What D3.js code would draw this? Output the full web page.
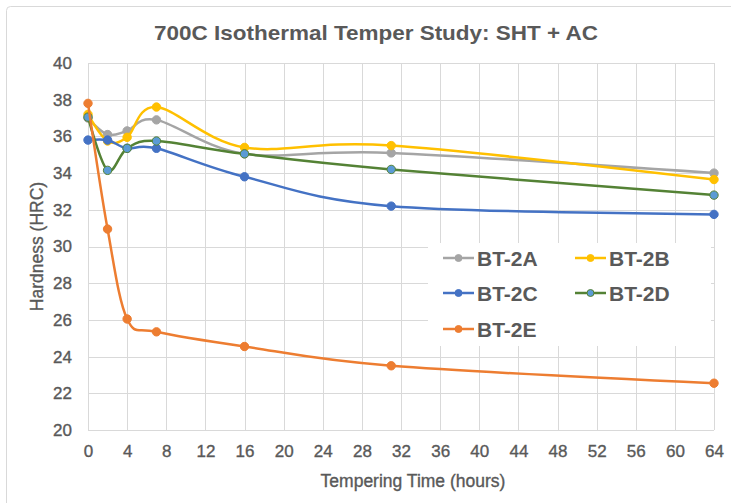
<!DOCTYPE html>
<html>
<head>
<meta charset="utf-8">
<script src="https://cdn.jsdelivr.net/npm/d3@7"></script>
<style>
  html, body { margin: 0; padding: 0; background: #fff; }
  svg { display: block; }
</style>
</head>
<body>
<svg id="chart" width="731" height="503"></svg>
<script>
// Tempering times (hours)
const hours = [0, 2, 4, 7, 16, 31, 64];

// Hardness (HRC) per sample
const seriesNames = ["BT-2A", "BT-2B", "BT-2C", "BT-2D", "BT-2E"];
const bt2A = [37.0, 36.1, 36.3, 36.9, 35.05, 35.1, 34.0];
const bt2B = [37.2, 35.75, 35.95, 37.6, 35.4, 35.5, 33.65];
const bt2C = [35.8, 35.8, 35.35, 35.35, 33.8, 32.2, 31.75];
const bt2D = [37.05, 34.15, 35.35, 35.75, 35.05, 34.2, 32.8];
const bt2E = [37.8, 30.95, 26.05, 25.35, 24.55, 23.5, 22.55];

const xTicks = d3.range(0, 65, 4);
const yTicks = d3.range(20, 41, 2);

const lineColors = ["#a5a5a5", "#ffc000", "#4472c4", "#548235", "#ed7d31"];
const markerFills = ["#a5a5a5", "#ffc000", "#4472c4", "#5b9bd5", "#ed7d31"];

const seriesValues = [bt2A, bt2B, bt2C, bt2D, bt2E];
const series = seriesNames.map((name, i) => ({
  name,
  line: lineColors[i],
  fill: markerFills[i],
  points: hours.map((h, j) => ({ h, v: seriesValues[i][j] }))
}));

const svg = d3.select("#chart");
const textColor = "#595959";
const gridColor = "#d9d9d9";
const font = "'Liberation Sans', Arial, sans-serif";

// outer chart frame
svg.append("rect")
  .attr("x", 6.5).attr("y", 6.5)
  .attr("width", 740).attr("height", 510)
  .attr("rx", 4)
  .attr("fill", "#fff")
  .attr("stroke", gridColor)
  .attr("stroke-width", 1);

const x = d3.scaleLinear().domain([0, 64]).range([88, 714]);
const y = d3.scaleLinear().domain([20, 40]).range([430, 63]);

// gridlines
const grid = svg.append("g");
grid.selectAll("line.v").data(xTicks).join("line")
  .attr("x1", d => Math.round(x(d)) + 0.5).attr("x2", d => Math.round(x(d)) + 0.5)
  .attr("y1", y(40)).attr("y2", y(20))
  .attr("stroke", gridColor).attr("stroke-width", 1);
grid.selectAll("line.h").data(yTicks).join("line")
  .attr("x1", x(0)).attr("x2", x(64))
  .attr("y1", d => Math.round(y(d)) + 0.5).attr("y2", d => Math.round(y(d)) + 0.5)
  .attr("stroke", gridColor).attr("stroke-width", 1);

// axes (labels only, lines are the gridlines)
const xAxis = svg.append("g")
  .attr("transform", `translate(0,${y(20)})`)
  .call(d3.axisBottom(x).tickValues(xTicks).tickSize(0).tickPadding(15));
const yAxis = svg.append("g")
  .attr("transform", `translate(${x(0)},0)`)
  .call(d3.axisLeft(y).tickValues(yTicks).tickSize(0).tickPadding(16));
[xAxis, yAxis].forEach(a => {
  a.select(".domain").remove();
  a.selectAll("text")
    .attr("fill", textColor)
    .attr("stroke", textColor)
    .attr("stroke-width", 0.35)
    .style("font-family", font)
    .style("font-size", "17px");
});

// series lines
const line = d3.line()
  .x(d => x(d.h))
  .y(d => y(d.v))
  .curve(d3.curveCardinal.tension(0));

const plot = svg.append("g");
series.forEach(s => {
  const g = plot.append("g");
  g.append("path")
    .datum(s.points)
    .attr("d", line)
    .attr("fill", "none")
    .attr("stroke", s.line)
    .attr("stroke-width", 2.5)
    .attr("stroke-linecap", "round");
  g.selectAll("circle").data(s.points).join("circle")
    .attr("cx", d => x(d.h))
    .attr("cy", d => y(d.v))
    .attr("r", 4.2)
    .attr("fill", s.fill)
    .attr("stroke", s.line)
    .attr("stroke-width", 1);
});

// legend
const legend = svg.append("g");
legend.append("rect")
  .attr("x", 428).attr("y", 243)
  .attr("width", 283).attr("height", 103)
  .attr("fill", "#fff");
const legendPos = [
  [443, 258], [575, 258],
  [443, 293], [575, 293],
  [443, 329]
];
series.forEach((s, i) => {
  const [lx, ly] = legendPos[i];
  const item = legend.append("g");
  item.append("line")
    .attr("x1", lx).attr("x2", lx + 31)
    .attr("y1", ly).attr("y2", ly)
    .attr("stroke", s.line).attr("stroke-width", 2.5);
  item.append("circle")
    .attr("cx", lx + 15.5).attr("cy", ly).attr("r", 3.5)
    .attr("fill", s.fill).attr("stroke", s.line).attr("stroke-width", 1);
  item.append("text")
    .attr("x", lx + 34).attr("y", ly)
    .attr("dy", "0.36em")
    .attr("fill", textColor)
    .style("font-family", font)
    .style("font-size", "21px")
    .style("font-weight", "bold")
    .text(s.name);
});

// titles
svg.append("text")
  .attr("x", 376).attr("y", 40)
  .attr("text-anchor", "middle")
  .attr("fill", textColor)
  .attr("textLength", 444)
  .attr("lengthAdjust", "spacingAndGlyphs")
  .style("font-family", font)
  .style("font-size", "21px")
  .style("font-weight", "bold")
  .text("700C Isothermal Temper Study: SHT + AC");

svg.append("text")
  .attr("x", 413).attr("y", 487)
  .attr("text-anchor", "middle")
  .attr("fill", textColor)
  .attr("stroke", textColor)
  .attr("stroke-width", 0.35)
  .style("font-family", font)
  .style("font-size", "17.5px")
  .text("Tempering Time (hours)");

svg.append("text")
  .attr("transform", `translate(43,${(y(20) + y(40)) / 2}) rotate(-90)`)
  .attr("text-anchor", "middle")
  .attr("fill", textColor)
  .attr("stroke", textColor)
  .attr("stroke-width", 0.35)
  .style("font-family", font)
  .style("font-size", "17.5px")
  .text("Hardness (HRC)");
</script>
</body>
</html>
